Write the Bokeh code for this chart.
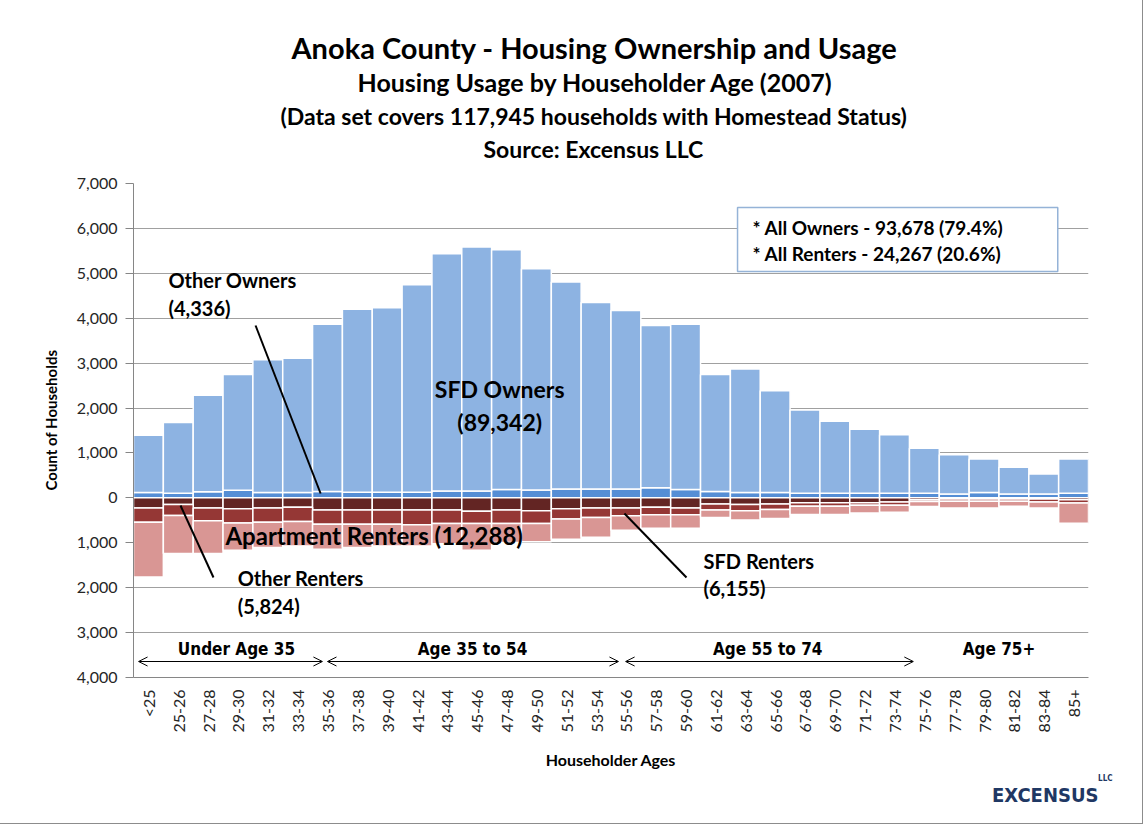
from math import pi
from bokeh.plotting import figure
from bokeh.models import (FactorRange, Range1d, FixedTicker, Label, Arrow,
                          OpenHead, ColumnDataSource, Title)
from bokeh.embed import file_html
from bokeh.resources import INLINE

# ---------------- data ----------------
ages = ["<25", "25-26", "27-28", "29-30", "31-32", "33-34", "35-36", "37-38",
        "39-40", "41-42", "43-44", "45-46", "47-48", "49-50", "51-52", "53-54",
        "55-56", "57-58", "59-60", "61-62", "63-64", "65-66", "67-68", "69-70",
        "71-72", "73-74", "75-76", "77-78", "79-80", "81-82", "83-84", "85+"]

other_owners = [120, 100, 135, 170, 120, 120, 140, 125, 125, 125, 155, 155,
                185, 175, 195, 195, 195, 225, 185, 140, 120, 120, 100, 100,
                100, 100, 100, 85, 120, 85, 85, 100]
sfd_owners = [1275, 1577, 2152, 2579, 2956, 2987, 3726, 4076, 4106, 4620,
              5283, 5432, 5342, 4927, 4610, 4154, 3975, 3611, 3681, 2609,
              2748, 2263, 1859, 1608, 1429, 1308, 1004, 876, 744, 594, 444, 764]
other_renters = [225, 150, 225, 245, 225, 210, 270, 270, 270, 270, 270, 300,
                 270, 285, 245, 225, 225, 210, 225, 135, 150, 135, 110, 110,
                 110, 90, 40, 25, 25, 25, 25, 40]
sfd_renters = [320, 245, 285, 315, 320, 315, 315, 315, 315, 330, 300, 270,
               300, 285, 225, 210, 175, 165, 150, 135, 135, 125, 75, 75,
               55, 75, 40, 50, 50, 50, 65, 75]
apt_renters = [1215, 845, 730, 605, 560, 545, 560, 520, 485, 470, 450, 595,
               425, 405, 450, 440, 320, 300, 300, 165, 210, 200, 185, 185,
               170, 155, 110, 150, 150, 110, 135, 450]

y_ticks = [-4000, -3000, -2000, -1000, 0, 1000, 2000, 3000, 4000, 5000, 6000, 7000]

title_lines = ["Anoka County - Housing Ownership and Usage",
               "Housing  Usage by Householder  Age (2007)",
               "(Data set covers 117,945 households with Homestead Status)",
               "Source: Excensus LLC"]
summary_lines = ["* All Owners - 93,678 (79.4%)", "* All Renters - 24,267 (20.6%)"]
age_groups = ["Under Age 35", "Age 35 to 54", "Age 55 to 74", "Age 75+"]

# ---------------- colours ----------------
C_SFD_OWN = "#8DB3E2"
C_OTH_OWN = "#558ED5"
C_OTH_REN = "#632523"
C_SFD_REN = "#953735"
C_APT_REN = "#D99694"

FONT = "Lato"
NARROW = "'Liberation Sans Narrow', 'Arial Narrow', 'DejaVu Sans Condensed', sans-serif"

src = ColumnDataSource(dict(
    ages=ages,
    other_owners=other_owners,
    sfd_owners=sfd_owners,
    other_renters=[-v for v in other_renters],
    sfd_renters=[-v for v in sfd_renters],
    apt_renters=[-v for v in apt_renters],
))

p = figure(x_range=FactorRange(*ages), y_range=Range1d(-4000, 7000),
           width=1142, height=823, output_backend="svg", toolbar_location=None,
           min_border_left=133, min_border_right=54, min_border_top=183,
           min_border_bottom=146)
p.outline_line_color = None
p.background_fill_color = "white"
p.border_fill_color = "white"
p.styles = {"outline": "1px solid #8c8c8c"}

p.vbar_stack(["other_owners", "sfd_owners"], x="ages", width=1.0, source=src,
             fill_color=[C_OTH_OWN, C_SFD_OWN], line_color="white", line_width=1.5)
p.vbar_stack(["other_renters", "sfd_renters", "apt_renters"], x="ages", width=1.0,
             source=src, fill_color=[C_OTH_REN, C_SFD_REN, C_APT_REN],
             line_color="white", line_width=1.5)

# axes
p.yaxis.ticker = FixedTicker(ticks=y_ticks)
p.yaxis.major_label_overrides = {t: f"{abs(t):,}" for t in y_ticks}
p.yaxis.axis_line_color = "#868686"
p.yaxis.major_tick_line_color = "#868686"
p.yaxis.major_tick_out = 8
p.yaxis.major_tick_in = 0
p.yaxis.minor_tick_line_color = None
p.yaxis.major_label_text_font = FONT
p.yaxis.major_label_text_font_size = "16px"
p.yaxis.major_label_text_color = "#262626"
p.yaxis.major_label_standoff = 8

p.xaxis.axis_line_color = "#868686"
p.xaxis.major_tick_line_color = None
p.xaxis.major_tick_out = 0
p.xaxis.minor_tick_line_color = None
p.xaxis.major_label_orientation = pi / 2
p.xaxis.major_label_text_font = FONT
p.xaxis.major_label_text_font_size = "16px"
p.xaxis.major_label_text_color = "#262626"
p.xaxis.major_label_standoff = 12
p.xaxis.axis_label = "Householder Ages"
p.xaxis.axis_label_text_font = FONT
p.xaxis.axis_label_text_font_size = "16px"
p.xaxis.axis_label_text_font_style = "bold"
p.xaxis.axis_label_text_color = "black"
p.xaxis.axis_label_standoff = 14

p.xgrid.visible = False
p.ygrid.grid_line_color = "#a0a0a0"
p.ygrid.grid_line_width = 1


def ttl(text, size, standoff, place="above", align="left", offset=0,
        font=FONT, color="black", valign="middle"):
    p.add_layout(Title(text=text, align=align, offset=offset, standoff=standoff,
                       text_font=font, text_font_size=f"{size}px",
                       text_font_style="bold", text_color=color,
                       vertical_align=valign), place)


# titles (nearest the frame first)
ttl(" ", 10, 6)
ttl(title_lines[3], 23, 0, offset=350)
ttl(title_lines[2], 23, 6, offset=147)
ttl(title_lines[1], 25, 0, offset=224)
ttl(title_lines[0], 29, 0, offset=158)

# y axis title
ttl("Count of Households", 15, 26, place="left", offset=187)

# logo
ttl("LLC", 8, 0, place="below", align="right", offset=-24,
    font=NARROW, color="#1F3864", valign="bottom")
ttl("EXCENSUS", 20, 0, place="below", align="right", offset=-10,
    font=NARROW, color="#1F3864", valign="top")


def lab(x, y, text, size, align="left", font=FONT, bold=True, color="black", angle=0.0):
    p.add_layout(Label(x=x, y=y, text=text, text_font=font,
                       text_font_size=f"{size}px",
                       text_font_style="bold" if bold else "normal",
                       text_align=align, text_baseline="middle",
                       text_color=color, angle=angle))


# summary box
p.quad(left=[20.24], right=[30.97], top=[6466], bottom=[5041],
       fill_color="white", line_color="#95B3D7", line_width=1.5)
lab(20.74, 6020, summary_lines[0], 19)
lab(20.74, 5441, summary_lines[1], 19)

# series annotations
lab(1.17, 4862, "Other Owners", 20)
lab(1.17, 4217, "(4,336)", 20)
lab(12.27, 2413, "SFD Owners", 23, align="center")
lab(12.27, 1700, "(89,342)", 23, align="center")
lab(3.08, -838, "Apartment Renters (12,288)", 24)
lab(3.49, -1795, "Other Renters", 20)
lab(3.49, -2397, "(5,824)", 20)
lab(19.1, -1395, "SFD Renters", 20)
lab(19.1, -1996, "(6,155)", 20)

p.segment(x0=[4.09, 2.68, 18.53], y0=[3838, -1773, -1773],
          x1=[6.27, 1.575, 16.45], y1=[97, -170, -348],
          line_color="black", line_width=2)

# age group arrows and labels
for xs, xe in [(0.17, 6.33), (6.50, 16.25), (16.49, 26.13)]:
    p.add_layout(Arrow(start=OpenHead(size=9, line_width=1),
                       end=OpenHead(size=9, line_width=1),
                       x_start=xs, y_start=-3644, x_end=xe, y_end=-3644,
                       line_width=1, line_color="black"))
for txt, xc in zip(age_groups, [3.45, 11.36, 21.25, 29.0]):
    lab(xc, -3376, txt, 17, align="center", font=NARROW)

open("out.html", "w").write(file_html(p, INLINE))
